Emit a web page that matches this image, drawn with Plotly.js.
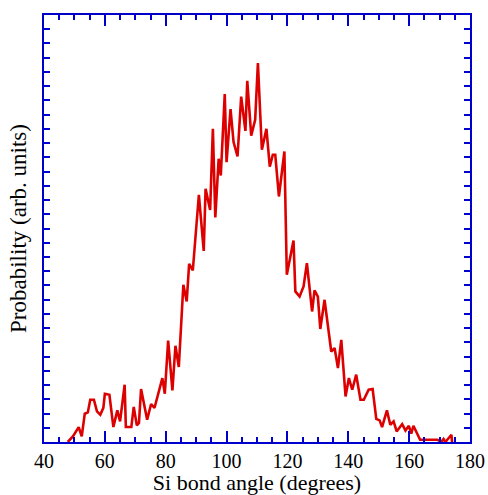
<!DOCTYPE html>
<html>
<head>
<meta charset="utf-8">
<script src="https://cdn.plot.ly/plotly-3.0.1.min.js"></script>
<style>html,body{margin:0;padding:0;background:#fff;}#chart{width:488px;height:495px;}</style>
</head>
<body>
<div id="chart"></div>
<script>
// Si bond angle (degrees)
const angle = [47.8, 49.5, 51.4, 52.4, 53.4, 54.4, 55.2, 56.4, 57.4, 58.5, 59.5, 60.0, 61.5, 62.8, 64.1, 65.0, 66.5, 66.9, 68.7, 69.5,
  70.5, 71.2, 71.9, 73.9, 75.2, 76.3, 78.9, 79.7, 80.8, 82.2, 83.2, 84.3, 85.8, 86.9, 87.7, 88.9, 90.9, 92.5, 93.1, 94.6,
  95.5, 96.3, 97.4, 98.1, 99.4, 100.0, 101.3, 102.3, 103.6, 104.8, 106.2, 106.8, 108.1, 109.4, 110.3, 111.6, 113.1, 114.2, 115.2, 116.0,
  117.2, 119.0, 119.8, 122.0, 122.6, 124.0, 125.3, 126.4, 128.1, 128.9, 130.0, 130.8, 132.2, 133.6, 134.4, 135.5, 136.6, 137.7, 139.1, 140.2,
  141.3, 142.6, 144.0, 145.1, 146.7, 148.0, 149.2, 150.3, 151.1, 152.7, 153.8, 154.9, 155.9, 157.7, 158.8, 159.9, 160.7, 161.4, 162.5, 163.6,
  169.3, 170.5, 171.3, 171.9, 173.9, 174.1];
// Probability (arb. units)
const prob = [0.00, 0.39, 1.05, 0.39, 1.99, 2.08, 2.97, 2.97, 2.15, 1.92, 2.40, 3.39, 3.32, 1.05, 2.22, 1.45, 4.02, 1.05, 1.05, 2.46,
  1.17, 1.33, 3.72, 1.57, 2.67, 2.39, 4.49, 3.39, 7.13, 3.62, 6.76, 5.27, 11.05, 9.87, 12.52, 12.05, 17.37, 13.43, 17.79, 16.31,
  22.00, 15.77, 19.90, 18.72, 24.44, 19.66, 23.38, 21.07, 20.06, 24.27, 21.86, 25.37, 21.53, 22.63, 26.62, 20.53, 22.00, 19.35, 20.18, 20.18,
  17.25, 20.41, 11.75, 14.16, 10.58, 10.22, 10.93, 12.57, 9.17, 10.65, 10.22, 7.94, 9.99, 7.89, 6.36, 6.60, 5.20, 7.18, 3.20, 4.49,
  3.67, 4.73, 2.97, 2.97, 3.67, 3.72, 1.62, 1.52, 1.05, 2.22, 1.21, 1.45, 0.74, 1.26, 0.81, 1.14, 0.58, 1.14, 0.63, 0.16,
  0.16, 0.00, 0.21, 0.00, 0.51, 0.00];

const axisBlue = '#0000cc';
const serif = '"Liberation Serif", "Times New Roman", serif';

Plotly.newPlot('chart', [{
  x: angle, y: prob, type: 'scatter', mode: 'lines',
  line: {color: '#dd0000', width: 2.6}, hoverinfo: 'skip', cliponaxis: true
}], {
  width: 488, height: 495,
  margin: {l: 44, r: 18, t: 15, b: 53},
  paper_bgcolor: '#fff', plot_bgcolor: '#fff',
  showlegend: false,
  xaxis: {
    range: [40, 180], dtick: 20, tick0: 40,
    ticks: 'inside', ticklen: 11, tickwidth: 2, tickcolor: axisBlue,
    minor: {dtick: 5, ticks: 'inside', ticklen: 5, tickwidth: 2, tickcolor: axisBlue, showgrid: false},
    showline: true, linecolor: axisBlue, linewidth: 2, mirror: 'allticks',
    showgrid: false, zeroline: false,
    tickfont: {family: serif, size: 20, color: '#000'},
    title: {text: 'Si bond angle (degrees)', font: {family: serif, size: 22, color: '#000'}, standoff: 7}
  },
  yaxis: {
    range: [0, 30], dtick: 1, tick0: 0,
    ticks: 'inside', ticklen: 6, tickwidth: 2, tickcolor: axisBlue,
    showticklabels: false,
    showline: true, linecolor: axisBlue, linewidth: 2, mirror: 'allticks',
    showgrid: false, zeroline: false,
    title: {text: 'Probability (arb. units)', font: {family: serif, size: 23, color: '#000'}, standoff: 9}
  }
}, {staticPlot: true, displayModeBar: false});
</script>
</body>
</html>
